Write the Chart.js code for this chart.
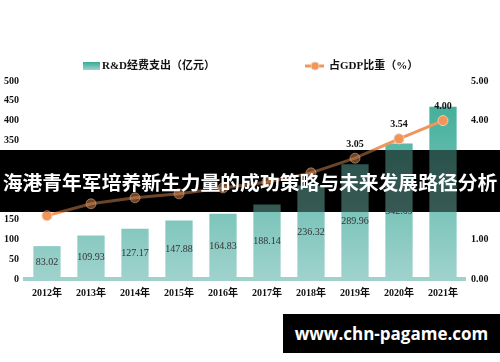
<!DOCTYPE html>
<html>
<head>
<meta charset="utf-8">
<script src="https://cdn.jsdelivr.net/npm/chart.js@4/dist/chart.umd.min.js"></script>
<style>
  body { margin: 0; background: #fff; }
  .wrap { position: relative; width: 500px; height: 362px; overflow: hidden; }
  #myChart { position: absolute; left: 0; top: 0; }
  .banner {
    position: absolute; left: 0; top: 150px; width: 500px; height: 62px;
    color: #fff;
    font: bold 19.8px "Noto Sans CJK SC", sans-serif;
    line-height: 64px; text-align: center; white-space: nowrap; letter-spacing: 0;
  }
  .site {
    position: absolute; left: 283px; top: 314px; width: 217px; height: 39px;
    background: #000; color: #fff;
    font: bold 17px "Open Sans", "DejaVu Sans", sans-serif;
    line-height: 39px; text-align: center;
  }
</style>
</head>
<body>
<div class="wrap">
  <canvas id="myChart" width="500" height="362"></canvas>
  <div class="banner">海港青年军培养新生力量的成功策略与未来发展路径分析</div>
  <div class="site">www.chn-pagame.com</div>
</div>
<script>
// data
const years = ['2012年', '2013年', '2014年', '2015年', '2016年', '2017年', '2018年', '2019年', '2020年', '2021年'];
const rdSpend = [83.02, 109.93, 127.17, 147.88, 164.83, 188.14, 236.32, 289.96, 342.09, 435.0];
const gdpShare = [1.60, 1.90, 2.05, 2.15, 2.30, 2.45, 2.68, 3.05, 3.54, 4.00];
const barName = 'R&D经费支出（亿元）';
const lineName = '占GDP比重（%）';

const tickFont = { family: '"Liberation Serif", "Noto Sans CJK SC", serif', size: 10, weight: 'bold' };

// banner band (dark strip across the chart)
const bandTop = 150, bandBottom = 212;

function barGradient(ctx, area) {
  const g = ctx.createLinearGradient(0, area.top, 0, area.bottom);
  g.addColorStop(0, '#37ab95');
  g.addColorStop(1, '#9fd2cd');
  return g;
}

// labels, legend and the dark band
const extras = {
  id: 'extras',
  afterDatasetsDraw(chart) {
    const ctx = chart.ctx;
    ctx.save();
    ctx.textAlign = 'center';
    ctx.textBaseline = 'middle';
    // bar values in the middle of each bar
    ctx.font = '10px "Liberation Serif", serif';
    ctx.fillStyle = '#333';
    chart.getDatasetMeta(0).data.forEach(function (bar, i) {
      ctx.fillText(rdSpend[i].toFixed(2), bar.x, (bar.y + bar.base) / 2);
    });
    // line values above each point
    ctx.font = 'bold 10px "Liberation Serif", serif';
    ctx.fillStyle = '#111';
    chart.getDatasetMeta(1).data.forEach(function (pt, i) {
      ctx.fillText(gdpShare[i].toFixed(2), pt.x, pt.y - 14);
    });

    // legend
    ctx.textAlign = 'left';
    ctx.font = 'bold 11px "Liberation Serif", "Noto Sans CJK SC", serif';
    const ly = 66;
    const g = ctx.createLinearGradient(0, ly - 4, 0, ly + 4);
    g.addColorStop(0, '#37ab95');
    g.addColorStop(1, '#9fd2cd');
    ctx.fillStyle = g;
    ctx.fillRect(83, ly - 4, 17, 8);
    ctx.fillStyle = '#111';
    ctx.fillText(barName, 102, ly);

    ctx.strokeStyle = '#f0965a';
    ctx.lineWidth = 3;
    ctx.beginPath();
    ctx.moveTo(305, ly);
    ctx.lineTo(324, ly);
    ctx.stroke();
    ctx.beginPath();
    ctx.arc(315, ly, 4, 0, Math.PI * 2);
    ctx.fillStyle = '#f0965a';
    ctx.fill();
    ctx.lineWidth = 1;
    ctx.strokeStyle = '#f8c9a8';
    ctx.stroke();
    ctx.fillStyle = '#111';
    ctx.fillText(lineName, 329, ly);
    ctx.restore();
  },
  afterDraw(chart) {
    const ctx = chart.ctx;
    ctx.save();
    ctx.fillStyle = '#000';
    ctx.fillRect(0, bandTop, chart.width, bandBottom - bandTop);
    // marks faintly showing through the band
    ctx.beginPath();
    ctx.rect(0, bandTop, chart.width, bandBottom - bandTop);
    ctx.clip();
    ctx.globalAlpha = 0.45;
    chart.getDatasetMeta(0).data.forEach(function (el) { el.draw(ctx); });
    const lm = chart.getDatasetMeta(1);
    lm.dataset.draw(ctx);
    lm.data.forEach(function (el) { el.draw(ctx); });
    ctx.restore();
  }
};

const config = {
  data: {
    labels: years,
    datasets: [{
      type: 'bar',
      label: barName,
      data: rdSpend,
      yAxisID: 'y',
      backgroundColor: function (c) {
        const area = c.chart.chartArea;
        if (!area) return '#5fbcab';
        return barGradient(c.chart.ctx, area);
      },
      barPercentage: 0.62,
      categoryPercentage: 1,
      order: 2
    }, {
      type: 'line',
      label: lineName,
      data: gdpShare,
      yAxisID: 'y1',
      borderColor: '#f0965a',
      borderWidth: 3,
      backgroundColor: '#f0965a',
      pointRadius: 5,
      pointBorderColor: '#f8c9a8',
      pointBorderWidth: 1,
      order: 1
    }]
  },
  options: {
    responsive: false,
    animation: false,
    layout: { padding: { top: 81, left: 0, right: 10, bottom: 55 } },
    plugins: { legend: { display: false }, tooltip: { enabled: false } },
    scales: {
      x: {
        offset: true,
        grid: { display: false, drawTicks: false },
        border: { color: '#9fd2cd', width: 4 },
        ticks: { color: '#111', font: tickFont, padding: 8 }
      },
      y: {
        position: 'left',
        min: 0, max: 500,
        grid: { display: false, drawTicks: false },
        border: { display: false },
        ticks: { stepSize: 50, color: '#111', font: tickFont, padding: 6 },
        afterFit: function (s) { s.width = 25; }
      },
      y1: {
        position: 'right',
        min: 0, max: 5,
        grid: { display: false, drawTicks: false },
        border: { display: false },
        ticks: {
          stepSize: 1, color: '#111', font: tickFont, padding: 6,
          callback: function (v) { return v.toFixed(2); }
        },
        afterFit: function (s) { s.width = 25; }
      }
    }
  },
  plugins: [extras]
};

var myChart = new Chart(document.getElementById('myChart'), config);
</script>
</body>
</html>
